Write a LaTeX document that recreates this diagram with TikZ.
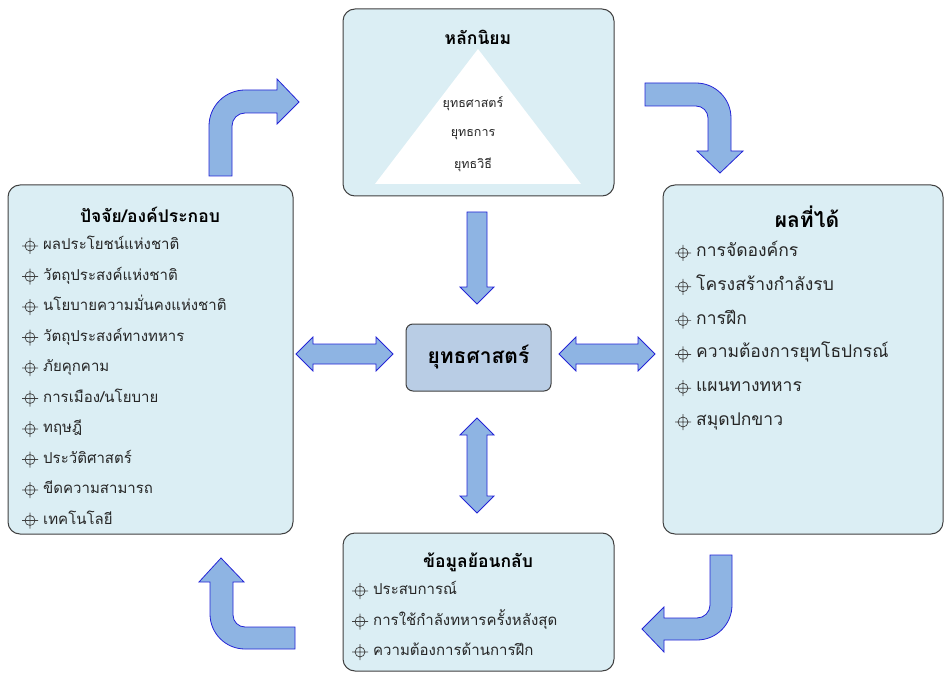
\documentclass[tikz,border=0pt]{standalone}
\usepackage{fontspec}
\newfontfamily\thai[Script=Thai]{Loma}

\definecolor{panelfill}{HTML}{DBEEF4}
\definecolor{panelline}{HTML}{404040}
\definecolor{corefill}{HTML}{B9CDE5}
\definecolor{arrowfill}{HTML}{8EB4E3}
\definecolor{arrowline}{HTML}{2424D6}

\tikzset{
  panel/.style={draw=panelline, fill=panelfill, line width=1pt, rounded corners=12pt},
  core/.style={draw=panelline, fill=corefill, line width=1pt, rounded corners=7pt,
    font=\thai\bfseries\fontsize{21}{24}\selectfont},
  blockarrow/.style={draw=arrowline, fill=arrowfill, line width=0.8pt},
  heading/.style={font=\thai\bfseries\fontsize{17.5}{20}\selectfont},
  entry/.style={anchor=west, inner sep=0pt, text height=12pt, text depth=5pt,
    font=\thai\fontsize{15}{18}\selectfont, text=black!85},
  bigentry/.style={entry, font=\thai\fontsize{17.5}{20}\selectfont},
  small/.style={inner sep=0pt, font=\thai\fontsize{12.5}{15}\selectfont, text=black!85},
  pics/crosshair/.style={code={
    \draw[black!75, line width=0.7pt] (0,0) circle (5pt)
      (-8pt,0) -- (8pt,0) (0,-8pt) -- (0,8pt);}}
}

\begin{document}
\begin{tikzpicture}[x=1pt, y=1pt]
  \useasboundingbox (0,0) rectangle (944,673);

  % boxes
  \node[panel, minimum width=271pt, minimum height=187pt] (doctrine) at (478.5,570.5) {};
  \node[panel, minimum width=285pt, minimum height=349pt] (factors)  at (150.5,313.5) {};
  \node[panel, minimum width=280pt, minimum height=349pt] (results)  at (803,313.5) {};
  \node[panel, minimum width=271pt, minimum height=138pt] (feedback) at (478.5,71) {};
  \node[core, minimum width=145pt, minimum height=67pt]   (strategy) at (478.5,315.5) {ยุทธศาสตร์};

  % doctrine
  \fill[white] (478,624) -- (581,489) -- (375,489) -- cycle;
  \node[heading] (doctrinetitle) at (478,636) {หลักนิยม};
  \node[small] (dlevel1) at (473,569) {ยุทธศาสตร์};
  \node[small] (dlevel2) at (473,538) {ยุทธการ};
  \node[small] (dlevel3) at (473,508) {ยุทธวิธี};

  % factors
  \node[heading] (factorstitle) at (150,458) {ปัจจัย/องค์ประกอบ};
  \foreach \txt [count=\i] in {ผลประโยชน์แห่งชาติ, วัตถุประสงค์แห่งชาติ,
      นโยบายความมั่นคงแห่งชาติ, วัตถุประสงค์ทางทหาร, ภัยคุกคาม,
      การเมือง/นโยบาย, ทฤษฎี, ประวัติศาสตร์, ขีดความสามารถ, เทคโนโลยี} {
    \pic at (30,{427-30.5*(\i-1)}) {crosshair};
    \node[entry] (factor\i) at (43,{427-30.5*(\i-1)}) {\txt};
  }

  % results
  \node[heading, font=\thai\bfseries\fontsize{21}{24}\selectfont] (resultstitle) at (807,456) {ผลที่ได้};
  \foreach \txt [count=\i] in {การจัดองค์กร, โครงสร้างกำลังรบ, การฝึก,
      ความต้องการยุทโธปกรณ์, แผนทางทหาร, สมุดปกขาว} {
    \pic at (683,{420-33.8*(\i-1)}) {crosshair};
    \node[bigentry] (result\i) at (696,{420-33.8*(\i-1)}) {\txt};
  }

  % feedback
  \node[heading] (feedbacktitle) at (478,111) {ข้อมูลย้อนกลับ};
  \foreach \txt [count=\i] in {ประสบการณ์, การใช้กำลังทหารครั้งหลังสุด,
      ความต้องการด้านการฝึก} {
    \pic at (360,{82-30.5*(\i-1)}) {crosshair};
    \node[entry] (feedback\i) at (373,{82-30.5*(\i-1)}) {\txt};
  }

  % straight arrows
  \draw[blockarrow] (467,461) -- (487,461) -- (487,386) -- (494,386) -- (477,369)
    -- (460,386) -- (467,386) -- cycle;
  \draw[blockarrow] (296,319) -- (313,336) -- (313,329) -- (376,329) -- (376,336)
    -- (393,319) -- (376,302) -- (376,309) -- (313,309) -- (313,302) -- cycle;
  \draw[blockarrow] (559,319) -- (576,336) -- (576,329) -- (638,329) -- (638,336)
    -- (655,319) -- (638,302) -- (638,309) -- (576,309) -- (576,302) -- cycle;
  \draw[blockarrow] (477,255) -- (494,238) -- (487,238) -- (487,177) -- (494,177)
    -- (477,160) -- (460,177) -- (467,177) -- (467,238) -- (460,238) -- cycle;

  % bent arrows
  \draw[blockarrow] (209,497) -- (209,547) arc[start angle=180, end angle=90, radius=36]
    -- (277,583) -- (277,594) -- (299,571) -- (277,549) -- (277,560) -- (245,560)
    arc[start angle=90, end angle=180, radius=13] -- (232,497) -- cycle;
  \draw[blockarrow] (645,590) -- (696,590) arc[start angle=90, end angle=0, radius=35]
    -- (731,522) -- (743,522) -- (720,500) -- (697,522) -- (708,522) -- (708,555)
    arc[start angle=0, end angle=90, radius=12] -- (645,567) -- cycle;
  \draw[blockarrow] (710,118) -- (732,118) -- (732,68) arc[start angle=0, end angle=-90, radius=35]
    -- (664,33) -- (664,21) -- (642,44) -- (664,66) -- (664,55) -- (697,55)
    arc[start angle=-90, end angle=0, radius=13] -- cycle;
  \draw[blockarrow] (295,46) -- (245,46) arc[start angle=270, end angle=180, radius=12]
    -- (233,91) -- (244,91) -- (221,115) -- (199,91) -- (210,91) -- (210,59)
    arc[start angle=180, end angle=270, radius=35] -- (295,24) -- cycle;
\end{tikzpicture}
\end{document}
